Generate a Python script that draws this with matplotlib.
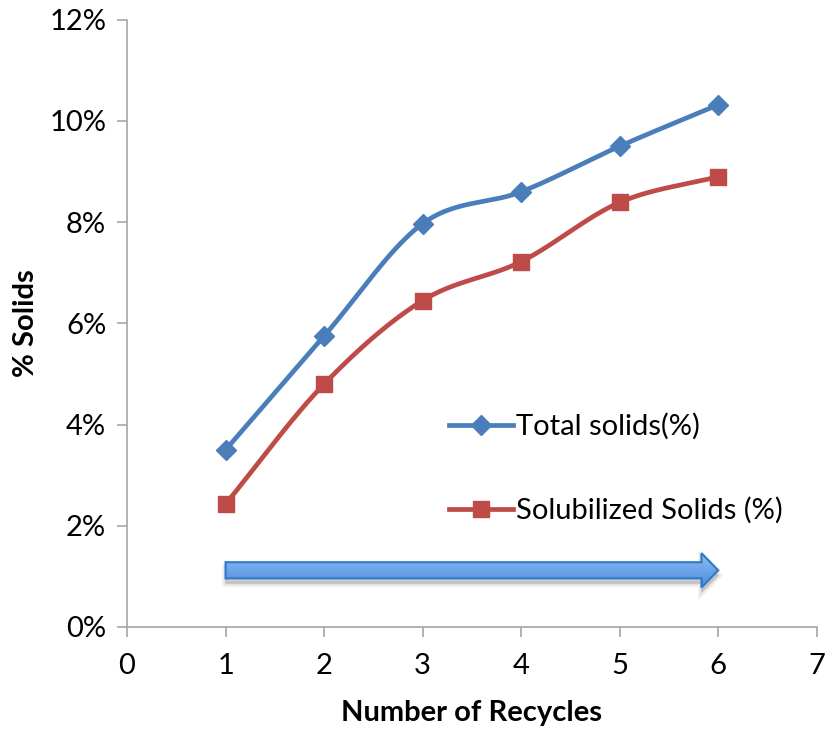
import numpy as np
import matplotlib.pyplot as plt
from matplotlib.patches import FancyArrow
from matplotlib.colors import LinearSegmentedColormap
from matplotlib.ticker import PercentFormatter

recycles = [1, 2, 3, 4, 5, 6]
total_solids = [3.5, 5.75, 7.97, 8.6, 9.5, 10.32]
solubilized_solids = [2.43, 4.8, 6.45, 7.22, 8.39, 8.9]

plt.rcParams['font.family'] = ['Lato', 'DejaVu Sans']


def smooth(x, y, n=30):
    # Catmull-Rom curve through the points, like a "smoothed line" chart
    x = np.asarray(x, float)
    y = np.asarray(y, float)
    px = np.concatenate([[2 * x[0] - x[1]], x, [2 * x[-1] - x[-2]]])
    py = np.concatenate([[2 * y[0] - y[1]], y, [2 * y[-1] - y[-2]]])
    t = np.linspace(0, 1, n)
    xs, ys = [], []
    for i in range(1, len(px) - 2):
        for p, out in ((px, xs), (py, ys)):
            p0, p1, p2, p3 = p[i - 1], p[i], p[i + 1], p[i + 2]
            out.append(0.5 * ((2 * p1) + (-p0 + p2) * t
                              + (2 * p0 - 5 * p1 + 4 * p2 - p3) * t ** 2
                              + (-p0 + 3 * p1 - 3 * p2 + p3) * t ** 3))
    return np.concatenate(xs), np.concatenate(ys)


fig = plt.figure(figsize=(8.26, 7.31), dpi=100)
ax = fig.add_axes([0.1538, 0.1423, 0.835, 0.8307])

blue = '#4A7EBB'
red = '#BE4B48'
fs = 21

sx, sy = smooth(recycles, total_solids)
ax.plot(sx, sy, color=blue, lw=3.4, solid_capstyle='round', zorder=3)
ax.plot(recycles, total_solids, ls='none', marker='D', ms=10, color=blue, zorder=4)
sx, sy = smooth(recycles, solubilized_solids)
ax.plot(sx, sy, color=red, lw=3.4, solid_capstyle='round', zorder=3)
ax.plot(recycles, solubilized_solids, ls='none', marker='s', ms=12, color=red, zorder=4)

# legend proxies
h1, = ax.plot([], [], color=blue, lw=3.4, marker='D', ms=10)
h2, = ax.plot([], [], color=red, lw=3.4, marker='s', ms=12)
ax.legend([h1, h2], ['Total solids(%)', 'Solubilized Solids (%)'],
          loc='upper left', bbox_to_anchor=(0.467, 0.352), frameon=False,
          fontsize=fs, handlelength=2.2, handletextpad=0.1, labelspacing=1.95,
          borderaxespad=0, borderpad=0)

# direction arrow along the recycles
arrow_y = 1.12
x0, x1 = recycles[0], recycles[-1]
kw = dict(width=0.32, head_width=0.68, head_length=0.17, length_includes_head=True)
for k in range(3):
    ax.add_patch(FancyArrow(x0, arrow_y - 0.1, x1 - x0, 0, color='black',
                            alpha=0.05, lw=1 + 2 * k, zorder=2, **kw))
arrow = FancyArrow(x0, arrow_y, x1 - x0, 0, facecolor='none',
                   edgecolor='#2F78C4', lw=1.5, zorder=4, **kw)
ax.add_patch(arrow)
grad = np.linspace(0, 1, 64).reshape(-1, 1)
cmap = LinearSegmentedColormap.from_list('arrow', ['#4A8BDE', '#8FBEF4'])
img = ax.imshow(grad, cmap=cmap, extent=(x0, x1, arrow_y - 0.35, arrow_y + 0.35),
                origin='lower', aspect='auto', zorder=3)
img.set_clip_path(arrow)

ax.set_xlim(0, 7)
ax.set_ylim(0, 12)
ax.set_xticks(range(0, 8))
ax.set_yticks(range(0, 13, 2))
ax.yaxis.set_major_formatter(PercentFormatter(decimals=0))
for s in ['top', 'right']:
    ax.spines[s].set_visible(False)
for s in ['left', 'bottom']:
    ax.spines[s].set_color('#A6A6A6')
    ax.spines[s].set_linewidth(1.2)
ax.tick_params(colors='#A6A6A6', labelcolor='black', labelsize=fs,
               length=7, width=1.2, direction='out')
ax.tick_params(axis='x', pad=12)
ax.tick_params(axis='y', pad=8)
ax.set_xlabel('Number of Recycles', fontsize=fs, fontweight='bold', labelpad=15)
ax.set_ylabel('% Solids', fontsize=fs, fontweight='bold', labelpad=7)

fig.savefig('out.png', dpi=100)
